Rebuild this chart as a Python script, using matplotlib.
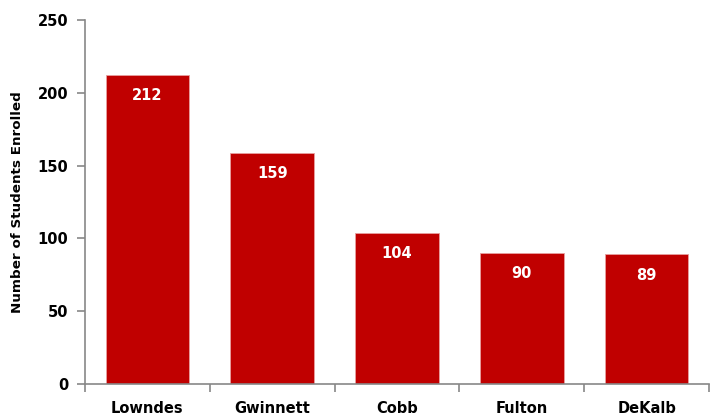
import matplotlib.pyplot as plt
import numpy as np

counties = ['Lowndes', 'Gwinnett', 'Cobb', 'Fulton', 'DeKalb']
students = [212, 159, 104, 90, 89]
yticks = [0, 50, 100, 150, 200, 250]

plt.rcParams['font.family'] = ['DejaVu Sans']
plt.rcParams['font.weight'] = 'bold'

fig = plt.figure(figsize=(7.1, 4.17), dpi=100)
ax = fig.add_axes([0.1197, 0.079, 0.879, 0.873])

x = np.arange(len(counties))
bars = ax.bar(x, students, width=0.67, color='#C00000', edgecolor='#E8A0A0', linewidth=0.6)

# value labels inside the bars
for xi, v in zip(x, students):
    ax.text(xi, v - 9, str(v), ha='center', va='top', color='white',
            fontsize=10.5, fontweight='bold')

ax.set_xlim(-0.5, len(counties) - 0.5)
ax.set_ylim(0, 250)
ax.set_yticks(yticks)
ax.set_xticks(x)
ax.set_xticklabels(counties, fontsize=10.5, fontweight='bold')
ax.set_xticks(np.arange(-0.5, len(counties)), minor=True)
ax.tick_params(axis='x', which='major', length=0, pad=12.5)
ax.tick_params(axis='x', which='minor', length=6, color='#878787', width=1.2, direction='out')
ax.tick_params(axis='y', length=6, color='#878787', width=1.2, labelsize=10.5, pad=6)
for lab in ax.get_yticklabels():
    lab.set_fontweight('bold')

ax.set_ylabel('Number of Students Enrolled', fontsize=9.7, fontweight='bold', labelpad=10)

for s in ['top', 'right']:
    ax.spines[s].set_visible(False)
for s in ['left', 'bottom']:
    ax.spines[s].set_color('#878787')
    ax.spines[s].set_linewidth(1.2)

fig.savefig('out.png', dpi=100)
